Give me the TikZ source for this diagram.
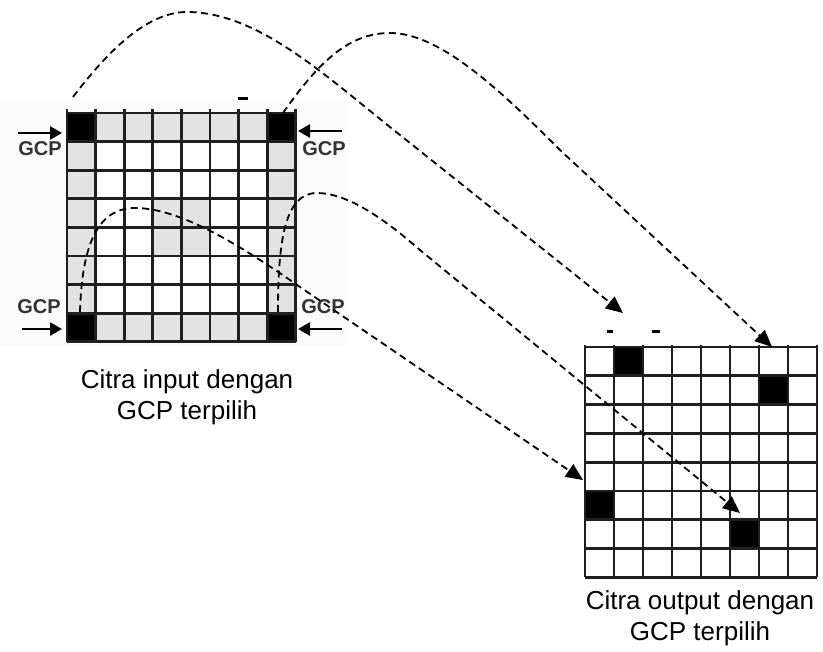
\documentclass[tikz,border=0pt]{standalone}
\usepackage{fontspec}
\setmainfont{Liberation Sans}
\usetikzlibrary{arrows.meta}
\definecolor{cellgray}{RGB}{227,227,227}

\begin{document}
\begin{tikzpicture}[x=1pt, y=-1pt,
    gridline/.style={line width=2.8pt, draw=black!88},
    link/.style={line width=1.8pt, dash pattern=on 7pt off 4.5pt, -{Triangle[length=17pt,width=15pt]}},
    gcparrow/.style={line width=2.6pt, -{Triangle[length=12pt,width=13pt]}},
    gcp/.style={font=\fontsize{20}{20}\selectfont\bfseries, text=black!80},
    caption/.style={align=center, font=\fontsize{26}{31}\selectfont}]
    \useasboundingbox (0,0) rectangle (823,652);
    \def\cin{28.6}
    \def\cox{29}
    \def\coy{28.8}

    % faint image background
    \fill[black!1.5] (0,98) rectangle (345,346);

    % input image cells
    \fill[cellgray] (67,113) rectangle (296,342);
    \fill[white] (67+\cin,113+\cin) rectangle (67+7*\cin,113+7*\cin);
    \fill[cellgray] (67+3*\cin,113+3*\cin) rectangle ++(2*\cin,2*\cin);
    \foreach \i/\j in {0/0,7/0,0/7,7/7}
      \fill[black] (67+\i*\cin,113+\j*\cin) rectangle ++(\cin,\cin);
    % input image grid
    \foreach \k in {0,...,8} {
      \draw[gridline] (67+\k*\cin,109) -- (67+\k*\cin,342);
      \draw[gridline] (67,113+\k*\cin) -- (296,113+\k*\cin);
    }

    % output image cells
    \foreach \i/\j in {1/0,6/1,0/5,5/6}
      \fill[black] (585+\i*\cox,347+\j*\coy) rectangle ++(\cox,\coy);
    % output image grid
    \foreach \k in {0,...,8} {
      \draw[gridline] (585+\k*\cox,345) -- (585+\k*\cox,577);
      \draw[gridline] (585,347+\k*\coy) -- (817,347+\k*\coy);
    }

    % small marks
    \draw[line width=3pt] (238,99) -- (248,99);
    \draw[line width=3pt] (607,332) -- (613,332);
    \draw[line width=3pt] (652,332) -- (660,332);

    % GCP labels and arrows
    \node[gcp] (gcpTL) at (40,149) {GCP};
    \node[gcp] (gcpTR) at (324,149) {GCP};
    \node[gcp] (gcpBL) at (39,307) {GCP};
    \node[gcp] (gcpBR) at (323,307) {GCP};
    \draw[gcparrow] (18,133) -- (62,133);
    \draw[gcparrow] (342,131) -- (298,131);
    \draw[gcparrow] (22,329) -- (62,329);
    \draw[gcparrow] (342,329) -- (298,329);

    % start and end points
    \coordinate (tlStart) at (73,97);
    \coordinate (trStart) at (283,113);
    \coordinate (blStart) at (80,312);
    \coordinate (brStart) at (278,312);
    \coordinate (tlEnd) at (623,313);
    \coordinate (trEnd) at (772,347);
    \coordinate (blEnd) at (583,480);
    \coordinate (brEnd) at (740,513);

    % dashed mappings
    \draw[link] (tlStart) .. controls (105,55) and (145,12) .. (187,12)
      .. controls (260,12) and (330,80) .. (400,135) -- (tlEnd);
    \draw[link] (trStart) .. controls (320,60) and (350,33) .. (390,33)
      .. controls (440,33) and (500,90) .. (560,150) -- (trEnd);
    \draw[link] (blStart) .. controls (82,240) and (100,208) .. (135,208)
      .. controls (180,208) and (240,245) .. (300,287) -- (blEnd);
    \draw[link] (brStart) .. controls (278,240) and (285,193) .. (317,193)
      .. controls (345,193) and (380,215) .. (420,250) -- (brEnd);

    % captions
    \node[caption] (inCap) at (187,397) {Citra input dengan\\GCP terpilih};
    \node[caption] (outCap) at (700,618) {Citra output dengan\\GCP terpilih};
\end{tikzpicture}
\end{document}
